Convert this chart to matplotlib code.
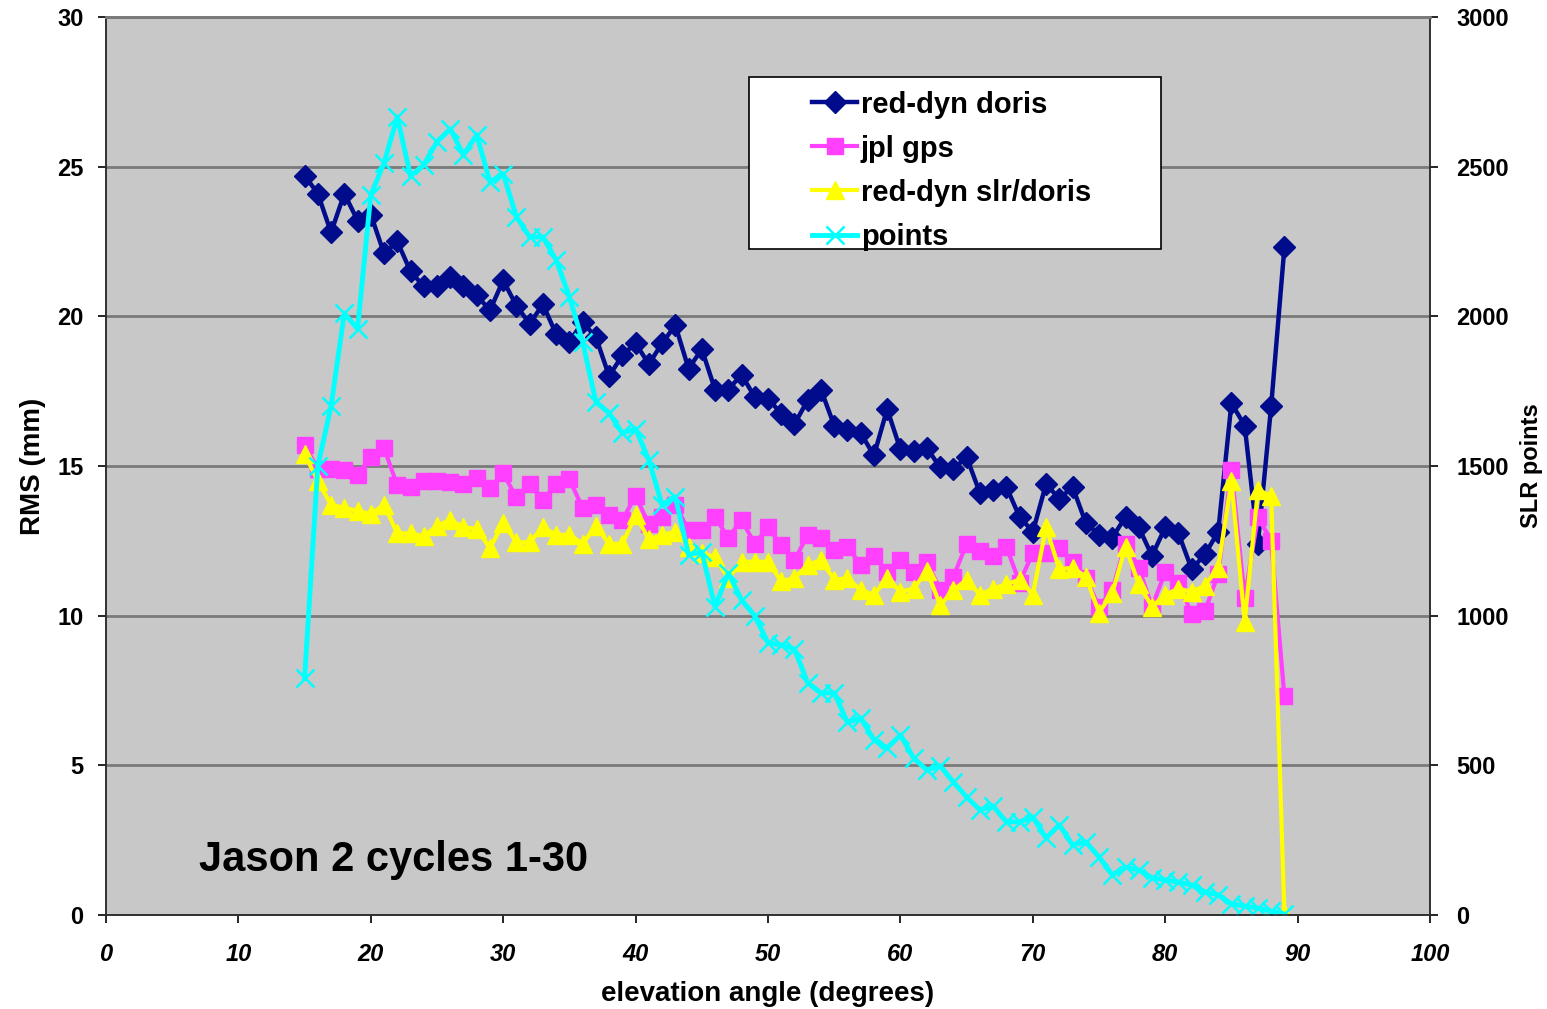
import matplotlib
matplotlib.use("Agg")
import matplotlib.pyplot as plt
from matplotlib.patches import Rectangle

plt.rcParams['font.family'] = ['Liberation Sans', 'DejaVu Sans']
plt.rcParams['font.weight'] = 'bold'

elevation = list(range(15, 90))

red_dyn_doris = [
    24.7, 24.1, 22.8, 24.1, 23.2, 23.4, 22.1, 22.5, 21.5, 21.0,
    21.0, 21.3, 21.0, 20.7, 20.2, 21.2, 20.35, 19.75, 20.4, 19.4,
    19.15, 19.8, 19.3, 18.0, 18.7, 19.1, 18.4, 19.1, 19.7, 18.25,
    18.9, 17.55, 17.55, 18.05, 17.3, 17.25, 16.75, 16.4, 17.2, 17.55,
    16.35, 16.2, 16.1, 15.35, 16.9, 15.55, 15.5, 15.6, 14.95, 14.9,
    15.3, 14.1, 14.2, 14.3, 13.3, 12.8, 14.4, 13.9, 14.3, 13.1,
    12.7, 12.6, 13.3, 12.95, 12.0, 12.95, 12.75, 11.55, 12.05, 12.8,
    17.1, 16.35, 12.4, 17.0, 22.3,
]

jpl_gps = [
    15.7, 14.9, 14.9, 14.85, 14.7, 15.3, 15.6, 14.35, 14.3, 14.5,
    14.5, 14.45, 14.4, 14.6, 14.25, 14.75, 13.95, 14.4, 13.85, 14.4,
    14.55, 13.6, 13.7, 13.35, 13.2, 14.0, 13.05, 13.3, 13.7, 12.85,
    12.85, 13.3, 12.6, 13.2, 12.4, 12.95, 12.35, 11.85, 12.7, 12.6,
    12.2, 12.3, 11.7, 12.0, 11.45, 11.85, 11.45, 11.8, 10.85, 11.3,
    12.4, 12.15, 12.0, 12.3, 11.1, 12.1, 12.1, 12.25, 11.8, 11.25,
    10.3, 10.85, 12.4, 11.6, 10.3, 11.45, 11.1, 10.05, 10.15, 11.4,
    14.85, 10.6, 13.3, 12.5, 7.3,
]

red_dyn_slr_doris = [
    15.4, 14.5, 13.7, 13.6, 13.5, 13.4, 13.7, 12.75, 12.75, 12.65,
    13.0, 13.2, 12.95, 12.9, 12.25, 13.1, 12.45, 12.45, 12.95, 12.7,
    12.7, 12.4, 13.0, 12.4, 12.4, 13.35, 12.55, 12.7, 12.8, 12.3,
    12.1, 11.95, 11.25, 11.8, 11.8, 11.8, 11.15, 11.25, 11.7, 11.85,
    11.2, 11.25, 10.85, 10.7, 11.25, 10.8, 10.9, 11.5, 10.35, 10.85,
    11.2, 10.7, 10.9, 11.05, 11.2, 10.7, 12.95, 11.55, 11.6, 11.3,
    10.1, 10.75, 12.3, 11.05, 10.3, 10.7, 10.9, 10.8, 11.0, 11.6,
    14.5, 9.8, 14.2, 14.0, 0.05,
]

slr_points = [
    790, 1500, 1700, 2010, 1958, 2405, 2512, 2666, 2469, 2506,
    2583, 2626, 2539, 2606, 2449, 2476, 2332, 2265, 2265, 2188,
    2065, 1915, 1714, 1677, 1610, 1624, 1520, 1370, 1397, 1203,
    1213, 1029, 1143, 1052, 999, 909, 902, 888, 775, 742,
    742, 643, 658, 585, 558, 601, 524, 484, 498, 444,
    394, 351, 364, 311, 311, 327, 257, 301, 234, 244,
    194, 134, 160, 150, 124, 117, 110, 100, 77, 67,
    37, 30, 23, 13, 3,
]

fig = plt.figure(figsize=(15.47, 10.09), dpi=100)
ax = fig.add_axes([0.0685, 0.0932, 0.8559, 0.8900])
ax.set_facecolor('#c8c8c8')

l1, = ax.plot(elevation, red_dyn_doris, color='#000c8c', lw=3.2, marker='D',
              markersize=11, label='red-dyn doris')
l2, = ax.plot(elevation, jpl_gps, color='#ff40ff', lw=3, marker='s',
              markersize=12, label='jpl gps')
l3, = ax.plot(elevation, red_dyn_slr_doris, color='#ffff00', lw=3, marker='^',
              markersize=13, label='red-dyn slr/doris')

ax.set_xlim(0, 100)
ax.set_ylim(0, 30)
ax.set_xticks(range(0, 101, 10))
ax.set_yticks(range(0, 31, 5))
ax.yaxis.grid(True, color='#7a7a7a', lw=2)
ax.set_axisbelow(True)

ax2 = ax.twinx()
l4, = ax2.plot(elevation, slr_points, color='#00ffff', lw=3.5, marker='x',
               markersize=13, markeredgewidth=1.8, label='points')
ax2.set_ylim(0, 3000)
ax2.set_yticks(range(0, 3001, 500))

for a in (ax, ax2):
    for s in a.spines.values():
        s.set_color('#303030')
        s.set_linewidth(1.2)
    a.spines['top'].set_color('#7a7a7a')
    a.spines['top'].set_linewidth(2)
    a.tick_params(axis='both', length=6, width=1.2, labelsize=17)

ax.tick_params(axis='y', pad=10)
ax.tick_params(axis='x', pad=14)
ax2.tick_params(axis='y', pad=13)
for lbl in ax.get_yticklabels() + ax2.get_yticklabels():
    lbl.set_fontweight('bold')
for lbl in ax.get_xticklabels():
    lbl.set_fontweight('bold')
    lbl.set_fontstyle('italic')

ax.set_xlabel('elevation angle (degrees)', fontsize=20, fontweight='bold', labelpad=11)
ax.set_ylabel('RMS (mm)', fontsize=20, fontweight='bold', labelpad=8)
ax2.set_ylabel('SLR points', fontsize=17, fontweight='bold', labelpad=8)

ax.text(7, 1.85, 'Jason 2 cycles 1-30', fontsize=30, fontweight='bold',
        va='center', ha='left')

# white legend box, wider than the entries, handles sit right of centre-left
box = Rectangle((0.4856, 0.7416), 0.3112, 0.1916, transform=ax2.transAxes,
                facecolor='white', edgecolor='black', lw=1.2, zorder=9)
ax2.add_patch(box)
leg = ax2.legend(handles=[l1, l2, l3, l4], loc='upper left',
                 bbox_to_anchor=(0.5332, 0.918), prop={'size': 21, 'weight': 'bold'},
                 frameon=False, handlelength=1.55, handletextpad=0.12,
                 labelspacing=0.55, borderpad=0, borderaxespad=0)
leg.set_zorder(10)

fig.savefig('out.png', dpi=100, facecolor='white')
